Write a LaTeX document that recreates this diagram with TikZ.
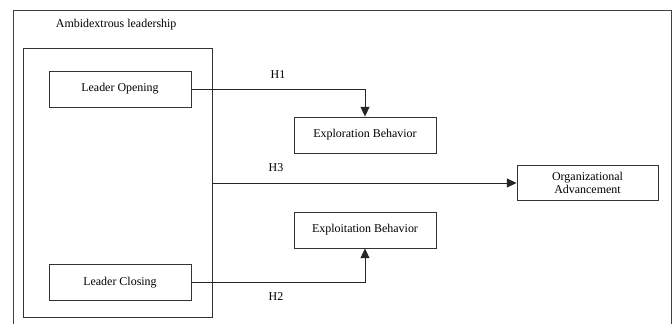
\documentclass[tikz,border=0pt]{standalone}
\usepackage{fontspec}
\setmainfont{Liberation Serif}
\usetikzlibrary{arrows.meta}

\begin{document}
\begin{tikzpicture}[
    x=0.025cm,y=-0.025cm,
    font=\fontsize{8.5}{10}\selectfont,
    box/.style={draw=black!80,line width=.6pt,fill=white,minimum width=3.55cm,minimum height=.9cm,inner sep=1pt,align=center},
    link/.style={-{Triangle[length=2.4mm,width=2.2mm]},line width=.7pt,black!85},
    hyp/.style={font=\fontsize{8.5}{10}\selectfont}
  ]
    \useasboundingbox (0,0) rectangle (672,324);
    % outer frame, open at the bottom
    \draw[black!75,line width=.7pt] (13,324) -- (13,10) -- (671,10) -- (671,324);
    \node[anchor=west] (title) at (51,25) {Ambidextrous leadership};
    \node[draw=black!80,line width=.6pt,minimum width=4.725cm,minimum height=6.725cm] (amb) at (117.5,182.5) {};
    \node[box] (open) at (120,89) {Leader Opening};
    \node[box] (close) at (120,282.5) {Leader Closing};
    \node[box] (explore) at (365,135) {Exploration Behavior};
    \node[box] (exploit) at (365,230) {Exploitation Behavior};
    \node[box,minimum width=3.525cm,minimum height=.875cm] (adv) at (587.5,183) {Organizational\\[-1pt]Advancement};
    \draw[link] (open.east) -| (explore.north);
    \draw[link] (close.east) -| (exploit.south);
    \draw[link] (amb.east |- adv.west) -- (adv.west);
    \foreach \n/\x/\y in {h1/278/75,h3/276/168,h2/276/297} {\node[hyp] (\n) at (\x,\y) {\MakeUppercase{\n}};}
\end{tikzpicture}
\end{document}
